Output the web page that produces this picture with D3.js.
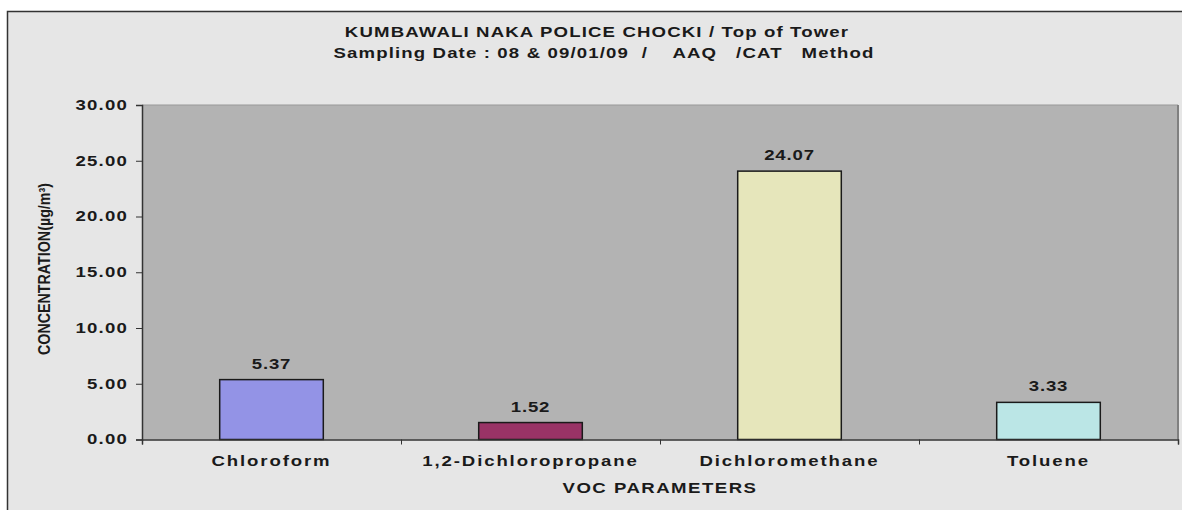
<!DOCTYPE html>
<html>
<head>
<meta charset="utf-8">
<script src="https://cdn.jsdelivr.net/npm/d3@7"></script>
<style>
  body { margin: 0; background: #fff; }
  svg { display: block; }
  text { font-family: "Liberation Sans", Arial, sans-serif; font-weight: bold; fill: #1a1a1a; }
</style>
</head>
<body>
<svg width="1182" height="510"></svg>
<script>
const categories = ['Chloroform', '1,2-Dichloropropane', 'Dichloromethane', 'Toluene']
const values = [5.37, 1.52, 24.07, 3.33]
const barColors = ['#9393e6', '#993366', '#e6e6bb', '#bbe6e6']
const yTicks = [0, 5, 10, 15, 20, 25, 30]
const titleLines = ['KUMBAWALI NAKA POLICE CHOCKI / Top of Tower', 'Sampling Date : 08 & 09/01/09  /    AAQ   /CAT   Method']
const xTitle = 'VOC PARAMETERS'
const yTitle = 'CONCENTRATION(µg/m³)'

const svg = d3.select('svg')
const margin = {top: 105, right: 4, bottom: 70.5, left: 142}
const width = +svg.attr('width') - margin.left - margin.right
const height = +svg.attr('height') - margin.top - margin.bottom
const stretch = 1.33

// chart area background
svg.append('rect')
  .attr('x', 7.5).attr('y', 11.5)
  .attr('width', 1182).attr('height', 510)
  .attr('fill', '#e6e6e6')
  .attr('stroke', '#333').attr('stroke-width', 1.5)

const g = svg.append('g').attr('transform', 'translate(' + margin.left + ',' + margin.top + ')')

const x = d3.scaleBand().domain(categories).range([0, width]).paddingInner(0.6).paddingOuter(0.3)
const xBound = d3.scaleLinear().domain([0, categories.length]).range([0, width])
const y = d3.scaleLinear().domain([0, 30]).range([height, 0])

// plot area
g.append('rect')
  .attr('width', width).attr('height', height)
  .attr('fill', '#b3b3b3')
g.append('line').attr('x1', 0).attr('x2', width).attr('y1', 0).attr('y2', 0)
  .attr('stroke', '#999').attr('stroke-width', 1)
g.append('line').attr('x1', width).attr('x2', width).attr('y1', 0).attr('y2', height)
  .attr('stroke', '#808080').attr('stroke-width', 2)

function stretchText (sel) {
  sel.each(function () {
    const t = d3.select(this)
    const tx = +t.attr('x') || 0
    const ty = +t.attr('y') || 0
    t.attr('x', null).attr('y', null)
      .attr('transform', 'translate(' + tx + ',' + ty + ') scale(' + stretch + ',1)')
  })
}

// bars
g.selectAll('.bar')
  .data(values)
  .enter().append('rect')
  .attr('x', (d, i) => x(categories[i]))
  .attr('y', d => y(d))
  .attr('width', x.bandwidth())
  .attr('height', d => y(0) - y(d))
  .attr('fill', (d, i) => barColors[i])
  .attr('stroke', '#1a1a1a')
  .attr('stroke-width', 1.5)

// value labels
g.selectAll('.val')
  .data(values)
  .enter().append('text')
  .attr('x', (d, i) => x(categories[i]) + x.bandwidth() / 2)
  .attr('y', d => y(d) - 11)
  .attr('text-anchor', 'middle')
  .style('font-size', '14px')
  .style('letter-spacing', '0.6px')
  .text(d => d.toFixed(2))
  .call(stretchText)

// y axis
const yAxis = g.append('g')
  .call(d3.axisLeft(y).tickValues(yTicks).tickSize(6).tickPadding(8).tickFormat(d3.format('.2f')))
yAxis.select('.domain').attr('stroke', '#333').attr('stroke-width', 1.5)
yAxis.selectAll('.tick line').attr('stroke', '#333')
yAxis.selectAll('.tick text')
  .style('font-size', '14px')
  .style('letter-spacing', '0.9px')
  .attr('fill', '#1a1a1a')
  .call(stretchText)

// x axis with ticks at category boundaries
const xAxis = g.append('g')
  .attr('transform', 'translate(0,' + height + ')')
  .call(d3.axisBottom(xBound).ticks(categories.length).tickSize(5).tickFormat(''))
xAxis.select('.domain').attr('stroke', '#333').attr('stroke-width', 1.5)
xAxis.selectAll('.tick line').attr('stroke', '#333')

g.selectAll('.cat')
  .data(categories)
  .enter().append('text')
  .attr('x', d => x(d) + x.bandwidth() / 2)
  .attr('y', height + 26)
  .attr('text-anchor', 'middle')
  .style('font-size', '14px')
  .style('letter-spacing', '1.4px')
  .text(d => d)
  .call(stretchText)

svg.append('text')
  .attr('x', margin.left + width / 2)
  .attr('y', 493)
  .attr('text-anchor', 'middle')
  .style('font-size', '14px')
  .style('letter-spacing', '1.1px')
  .text(xTitle)
  .call(stretchText)

// titles
svg.selectAll('.title')
  .data(titleLines)
  .enter().append('text')
  .attr('x', (d, i) => 597 + i * 7)
  .attr('y', (d, i) => 37 + i * 21)
  .attr('text-anchor', 'middle')
  .style('font-size', '14px')
  .style('letter-spacing', '0.85px')
  .style('white-space', 'pre')
  .attr('xml:space', 'preserve')
  .text(d => d)
  .call(stretchText)

// y title, compressed
svg.append('text')
  .attr('transform', 'translate(50,269) rotate(-90)')
  .attr('text-anchor', 'middle')
  .attr('textLength', 172)
  .attr('lengthAdjust', 'spacingAndGlyphs')
  .style('font-size', '16px')
  .text(yTitle)
</script>
</body>
</html>
